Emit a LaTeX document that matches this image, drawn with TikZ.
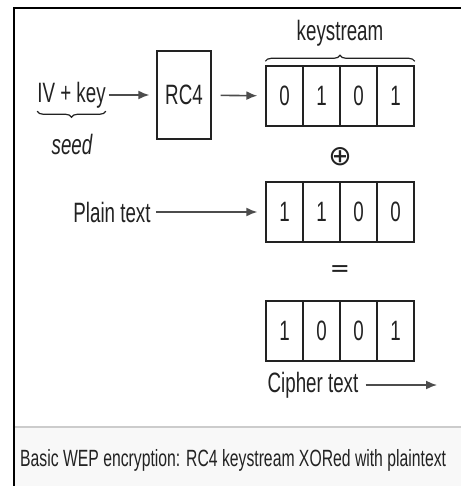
\documentclass[tikz,border=0pt]{standalone}
\usepackage{fontspec}
\setmainfont{Liberation Sans}[FakeStretch=0.67]
\newfontfamily\opfont{DejaVu Sans}
\usepackage{tikz}
\usetikzlibrary{arrows.meta,decorations.pathreplacing}
\definecolor{inkgray}{HTML}{222222}
\definecolor{capbg}{HTML}{F8F8F8}
\tikzset{
  cell/.style ={draw=inkgray, line width=1.4pt, minimum width=37pt, minimum height=60pt, inner sep=0pt,
                font=\fontsize{28}{30}\selectfont, text=inkgray},
  rcbox/.style ={draw=inkgray, line width=1.4pt, minimum width=54pt, minimum height=88pt, inner sep=0pt,
                 font=\fontsize{28}{30}\selectfont, text=inkgray},
  lbl/.style ={inner sep=0pt, font=\fontsize{28}{30}\selectfont, text=inkgray},
  oper/.style ={inner sep=0pt, font=\fontsize{24}{26}\opfont, text=inkgray},
  flow/.style ={draw, line width=1.6pt, color=black!70, -{Latex[length=11pt,width=9pt]}},
  brc/.style ={draw=inkgray, line width=1.2pt, decorate}
}

\begin{document}
\begin{tikzpicture}[x=1pt,y=-1pt]
	\useasboundingbox (0,0) rectangle (461,486);
	% frame and caption strip
	\fill[capbg] (14,427) rectangle (461,486);
	\draw[black!20, line width=1.5pt] (14,427) -- (461,427);
	\draw[black, line width=2.5pt] (14,486) -- (14,8) -- (461,8);
	\node[anchor=west, inner sep=0pt, font=\fontsize{23.5}{26}\selectfont, text=inkgray] (caption) at (20,460)
		{Basic WEP encryption: RC4 keystream XORed with plaintext};

	% seed and generator
	\node[lbl] (ivkey) at (71.5,95) {IV + key};
	\node[lbl, font=\fontsize{28}{30}\selectfont\itshape] (seed) at (72,144) {seed};
	\node[rcbox] (rc4) at (184,95) {RC4};
	\draw[brc, decoration={brace,mirror,amplitude=6pt,raise=3pt}] (ivkey.south west) -- (ivkey.south east);

	% bit rows
	\foreach \b [count=\i] in {0,1,0,1}
		\node[cell] (k\i) at (266+37*\i-18.5,96) {\b};
	\foreach \b [count=\i] in {1,1,0,0}
		\node[cell] (p\i) at (266+37*\i-18.5,212) {\b};
	\foreach \b [count=\i] in {1,0,0,1}
		\node[cell] (c\i) at (266+37*\i-18.5,331) {\b};
	\draw[brc, decoration={brace,amplitude=6pt,raise=4pt}] (k1.north west) -- (k4.north east);
	\node[lbl] (ks) at (340,33) {keystream};
	\node[oper, font=\fontsize{28}{30}\opfont] (xor) at (340,157) {⊕};
	\node[oper] (eq) at (340,271) {=};

	% plain and cipher text
	\node[lbl] (plain) at (112,212) {Plain text};
	\node[lbl] (cipher) at (313,385) {Cipher text};
	\coordinate (out) at (437,385);

	\draw[flow, shorten <=3pt, shorten >=7pt] (ivkey) -- (rc4);
	\draw[flow, shorten <=9pt, shorten >=8pt] (rc4) -- (k1);
	\draw[flow, shorten <=5pt, shorten >=8pt] (plain) -- (p1);
	\draw[flow, shorten <=7pt] (cipher) -- (out);
\end{tikzpicture}
\end{document}
